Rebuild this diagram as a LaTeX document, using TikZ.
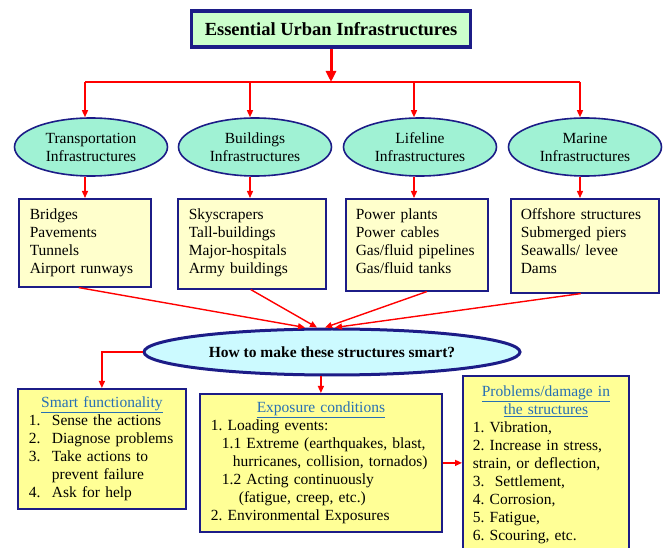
\documentclass[tikz,border=0pt]{standalone}
\usepackage{fontspec}
\setmainfont{Liberation Serif}
\frenchspacing
\usetikzlibrary{arrows.meta,shapes.geometric,calc}
\definecolor{navy}{RGB}{28,28,135}
\definecolor{aqua}{RGB}{160,242,212}
\definecolor{titlegreen}{RGB}{204,255,204}
\definecolor{paleyellow}{RGB}{255,255,204}
\definecolor{boxyellow}{RGB}{255,255,150}
\definecolor{lightcyan}{RGB}{204,250,255}
\definecolor{hblue}{RGB}{40,112,180}
\definecolor{arrred}{RGB}{255,0,0}
\newcommand{\hd}[1]{\textcolor{hblue}{\underline{#1}}}
\begin{document}
\begin{tikzpicture}[x=1pt,y=-1pt,
  font=\fontsize{15.5}{18}\selectfont,
  ell/.style={ellipse, draw=navy, line width=1.6pt, fill=aqua, minimum width=153pt, minimum height=58pt, align=center, inner sep=0pt},
  ubox/.style={rectangle, draw=navy, line width=1.6pt, fill=paleyellow, anchor=north west, align=left, inner xsep=11pt, inner ysep=0pt, text height=21pt},
  lbox/.style={rectangle, draw=navy, line width=1.8pt, fill=boxyellow, anchor=north west, align=left, inner ysep=0pt},
  arr/.style={draw=arrred, line width=1.4pt, -{Triangle[length=7pt,width=6pt]}},
  bus/.style={draw=arrred, line width=1.4pt}
]
\useasboundingbox (0,0) rectangle (665,548);
\clip (0,0) rectangle (665,548);

% title
\node[draw=navy, line width=3.5pt, fill=titlegreen, minimum width=279pt, minimum height=36pt,
      font=\fontsize{18.5}{20}\selectfont\bfseries] (t) at (331,29) {Essential Urban Infrastructures};

% bus
\coordinate (b1) at (85,82);
\coordinate (b2) at (250,82);
\coordinate (b3) at (414,82);
\coordinate (b4) at (580,82);
\draw[bus] (b1) -- (b4);
\draw[draw=arrred, line width=3pt, -{Triangle[length=11pt,width=10pt]}] (t.south) -- (t.south |- b1);

% ellipses
\node[ell] (e1) at (91,147) {Transportation\\Infrastructures};
\node[ell] (e2) at (255,147) {Buildings\\Infrastructures};
\node[ell] (e3) at (420,147) {Lifeline\\Infrastructures};
\node[ell] (e4) at (585,147) {Marine\\Infrastructures};

\foreach \i in {1,...,4} {
  \draw[arr] (b\i) -- (b\i |- e\i.north);
}

% upper boxes
\node[ubox, text width=110pt, text depth=67pt] (u1) at (18,198) {Bridges\\Pavements\\Tunnels\\Airport runways};
\node[ubox, text width=126pt, text depth=69pt] (u2) at (177,198) {Skyscrapers\\Tall-buildings\\Major-hospitals\\Army buildings};
\node[ubox, text width=122pt, text depth=71pt, inner xsep=10pt] (u3) at (345,198) {Power plants\\Power cables\\Gas/fluid pipelines\\Gas/fluid tanks};
\node[ubox, text width=128pt, text depth=73pt, inner xsep=10pt] (u4) at (510,198) {Offshore structures\\Submerged piers\\Seawalls/ levee\\Dams};

\foreach \i in {1,...,4} {
  \draw[arr] (b\i |- e\i.south) -- (b\i |- u\i.north);
}

% central question
\node[ellipse, draw=navy, line width=3pt, fill=lightcyan, minimum width=376pt, minimum height=46pt,
      inner sep=0pt, font=\fontsize{15.5}{18}\selectfont\bfseries] (q) at (332,352) {How to make these structures smart?};

\draw[arr] ([xshift=-6pt]u1.south) -- ([xshift=-27pt]q.north);
\draw[arr] ([xshift=-1pt]u2.south) -- ([xshift=-15pt]q.north);
\draw[arr] ([xshift=10pt]u3.south) -- ([xshift=-7pt]q.north);
\draw[arr] ([xshift=-4pt]u4.south) -- ([xshift=3pt]q.north);

% lower boxes
\node[lbox, text width=146pt, minimum height=120pt, inner xsep=11pt] (s) at (17,388)
  {\makebox[\linewidth]{\hd{Smart functionality}}\\
   \makebox[23pt][l]{1.}Sense the actions\\
   \makebox[23pt][l]{2.}Diagnose problems\\
   \makebox[23pt][l]{3.}Take actions to\\
   \hspace*{23pt}prevent failure\\
   \makebox[23pt][l]{4.}Ask for help};

\node[lbox, text width=220pt, minimum height=138pt, inner xsep=11pt] (x) at (199,393)
  {\makebox[\linewidth]{\hd{Exposure conditions}}\\
   1. Loading events:\\
   \hspace*{11pt}\mbox{1.1 Extreme (earthquakes, blast,}\\
   \hspace*{22pt}\mbox{hurricanes, collision, tornados)}\\
   \hspace*{11pt}1.2 Acting continuously\\
   \hspace*{28pt}(fatigue, creep, etc.)\\
   2. Environmental Exposures};

\node[lbox, text width=146pt, minimum height=178pt, inner xsep=10pt] (p) at (462,375)
  {\makebox[\linewidth]{\hd{Problems/damage in}}\\
   \makebox[\linewidth]{\hd{the structures}}\\
   1. Vibration,\\
   2. Increase in stress,\\
   strain, or deflection,\\
   3.\ \ Settlement,\\
   4. Corrosion,\\
   5. Fatigue,\\
   6. Scouring, etc.};

\draw[arr] (q.west) -| (s.north);
\draw[arr] (x.north |- q.south) -- (x.north);
\draw[arr] (x.east) -- (x.east -| p.west);
\end{tikzpicture}
\end{document}
